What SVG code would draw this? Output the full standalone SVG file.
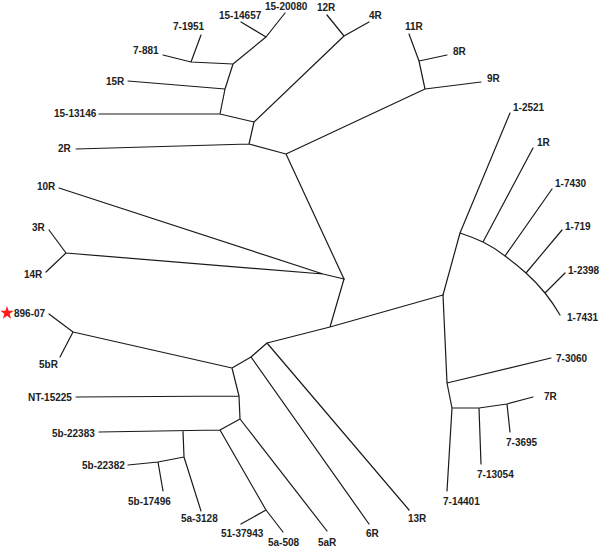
<svg xmlns="http://www.w3.org/2000/svg" width="600" height="549" viewBox="0 0 600 549">
<style>
.e{stroke:#1a1a1a;stroke-width:1.2;fill:none;stroke-linecap:round;stroke-linejoin:round}
text{font-family:"Liberation Sans",Arial,sans-serif;font-size:10px;font-weight:bold;fill:#222}
</style>
<rect width="600" height="549" fill="#fff"/>
<g id="connectors" class="e">
<path d="M344,279L286,154M286,154L249,144M286,154L425,89M249,144L76,149M249,144L254,122M254,122L220,114M220,114L99,114M220,114L225,89M225,89L128,81M225,89L233,64M233,64L191,62M191,62L163,55M191,62L201,35M233,64L266,37M266,37L241,22M266,37L285,13M254,122L344,36M344,36L327,15M344,36L369,22M425,89L481,82M425,89L419,61M419,61L447,55M419,61L409,34"/>
<path d="M344,279L323,274M323,274L59,188M323,274L66,253M66,253L49,230M66,253L46,272"/>
<path d="M344,279L330,327M330,327L443,295M330,327L267,343M267,343L409,510M267,343L251,357M251,357L369,524M251,357L232,368M232,368L73,332M73,332L49,314M73,332L60,357M232,368L239,396M239,396L76,397M239,396L240,419M240,419L327,531M240,419L220,430M220,430L99,432M220,430L266,510M266,510L283,532M266,510L241,524M183,431L184,457M184,457L201,511M184,457L158,462M158,462L128,465M158,462L163,491"/>
<path d="M443,295L447,383M447,383L551,358M447,383L452,408M452,408L447,491M452,408L479,408M479,408L481,464M479,408L507,404M507,404L533,397M507,404L510,432"/>
<path d="M443,295L460,233M460,233L510,113M460,233Q472,237 483,242Q495,248 505,256Q516,264 526,273Q536,282 545,293Q553,303 560,315M483,242L533,148M505,256L552,189M526,273L562,230M545,293L565,273"/>
</g>
<g id="n-15-20080"><text x="265" y="10">15-20080</text></g>
<g id="n-15-14657"><text x="219" y="19">15-14657</text></g>
<g id="n-7-1951"><text x="173" y="30">7-1951</text></g>
<g id="n-7-881"><text x="133" y="54">7-881</text></g>
<g id="n-15R"><text x="106" y="85">15R</text></g>
<g id="n-15-13146"><text x="54" y="117">15-13146</text></g>
<g id="n-2R"><text x="58" y="152">2R</text></g>
<g id="n-12R"><text x="317" y="11">12R</text></g>
<g id="n-4R"><text x="369" y="19">4R</text></g>
<g id="n-11R"><text x="405" y="30">11R</text></g>
<g id="n-8R"><text x="453" y="55">8R</text></g>
<g id="n-9R"><text x="487" y="82">9R</text></g>
<g id="n-1-2521"><text x="513" y="111">1-2521</text></g>
<g id="n-1R"><text x="537" y="146">1R</text></g>
<g id="n-1-7430"><text x="555" y="187">1-7430</text></g>
<g id="n-1-719"><text x="565" y="230">1-719</text></g>
<g id="n-1-2398"><text x="568" y="274">1-2398</text></g>
<g id="n-1-7431"><text x="567" y="321">1-7431</text></g>
<g id="n-10R"><text x="37" y="190">10R</text></g>
<g id="n-3R"><text x="32" y="231">3R</text></g>
<g id="n-14R"><text x="24" y="278">14R</text></g>
<g id="n-896-07"><polygon points="7,306 8.6,310.8 13.7,310.8 9.6,313.8 11.1,318.7 7,315.8 2.9,318.7 4.4,313.8 0.3,310.8 5.4,310.8" fill="#ff1a1a"/><text x="14" y="317">896-07</text></g>
<g id="n-5bR"><text x="39" y="368">5bR</text></g>
<g id="n-NT-15225"><text x="28" y="401">NT-15225</text></g>
<g id="n-5b-22383"><text x="52" y="437">5b-22383</text></g>
<g id="n-5b-22382"><text x="82" y="469">5b-22382</text></g>
<g id="n-5b-17496"><text x="128" y="505">5b-17496</text></g>
<g id="n-5a-3128"><text x="181" y="522">5a-3128</text></g>
<g id="n-51-37943"><text x="221" y="537">51-37943</text></g>
<g id="n-5a-508"><text x="268" y="546">5a-508</text></g>
<g id="n-5aR"><text x="318" y="546">5aR</text></g>
<g id="n-6R"><text x="366" y="537">6R</text></g>
<g id="n-13R"><text x="408" y="522">13R</text></g>
<g id="n-7-3060"><text x="556" y="362">7-3060</text></g>
<g id="n-7R"><text x="544" y="400">7R</text></g>
<g id="n-7-3695"><text x="506" y="446">7-3695</text></g>
<g id="n-7-13054"><text x="477" y="478">7-13054</text></g>
<g id="n-7-14401"><text x="443" y="505">7-14401</text></g>
</svg>
